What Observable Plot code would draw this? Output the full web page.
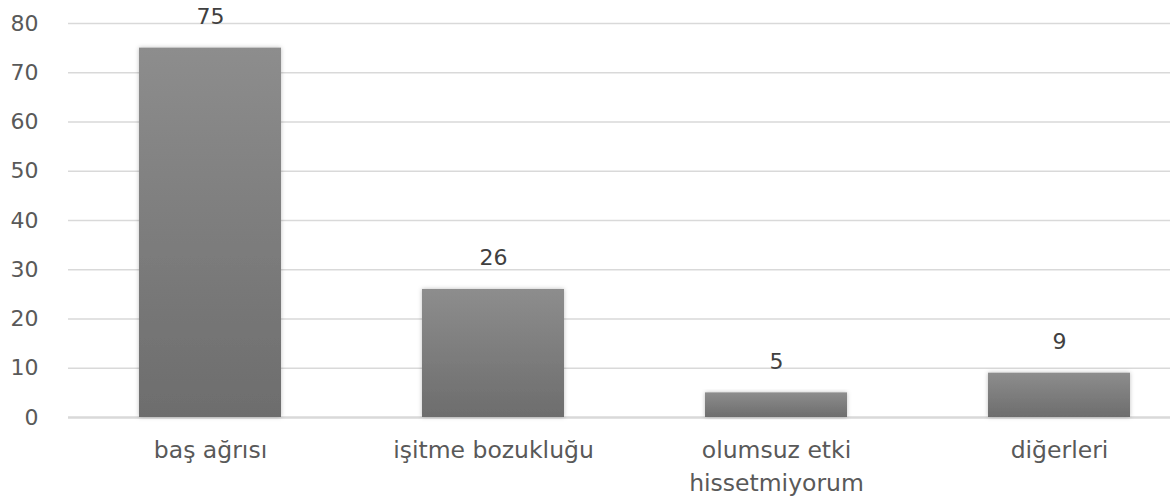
<!DOCTYPE html>
<html><head><meta charset="utf-8">
<script src="https://cdn.jsdelivr.net/npm/d3@7"></script>
<script src="https://cdn.jsdelivr.net/npm/@observablehq/plot@0.6"></script>
<style>
html,body{margin:0;padding:0;background:#fff;}
</style>
</head><body>
<div id="chart"></div>
<script>
const categories = ["baş ağrısı", "işitme bozukluğu", "olumsuz etki hissetmiyorum", "diğerleri"];
const labels = ["baş ağrısı", "işitme bozukluğu", "olumsuz etki\nhissetmiyorum", "diğerleri"];
const values = [75, 26, 5, 9];
const yTicks = [0, 10, 20, 30, 40, 50, 60, 70, 80];

const data = categories.map((c, i) => ({cat: c, value: values[i]}));
const labelMap = new Map(categories.map((c, i) => [c, labels[i]]));

const defs = () => {
  const ns = "http://www.w3.org/2000/svg";
  const d = document.createElementNS(ns, "defs");
  d.innerHTML = `<linearGradient id="barGrad" x1="0" y1="0" x2="0" y2="1">
      <stop offset="0" stop-color="#8d8d8d"/>
      <stop offset="1" stop-color="#6d6d6d"/>
    </linearGradient>
    <filter id="shadow" x="-10%" y="-10%" width="120%" height="120%">
      <feDropShadow dx="0" dy="0" stdDeviation="2" flood-color="#000" flood-opacity="0.25"/>
    </filter>`;
  return d;
};

const chart = Plot.plot({
  width: 1170,
  height: 500,
  marginLeft: 68,
  marginRight: 0,
  marginTop: 23,
  marginBottom: 83,
  style: {fontFamily: "'DejaVu Sans', sans-serif", fontSize: "22px", color: "#595959", background: "#fff"},
  x: {domain: categories, range: [68, 1200], paddingInner: 0.5, paddingOuter: 0.25, label: null},
  y: {domain: [0, 80], ticks: yTicks, label: null},
  marks: [
    defs,
    Plot.ruleY(yTicks.filter(d => d > 0), {stroke: "#d9d9d9", strokeWidth: 1.3}),
    Plot.ruleY([0], {stroke: "#d9d9d9", strokeWidth: 2.5}),
    Plot.barY(data, {x: "cat", y: "value", fill: "url(#barGrad)"}),
    Plot.text(data, {x: "cat", y: "value", text: d => String(d.value), dy: -31, fill: "#404040", fontSize: 22}),
    Plot.axisY({ticks: yTicks, tickSize: 0, tickPadding: 30, fill: "#595959", fontSize: 22}),
    Plot.axisX({tickSize: 0, tickPadding: 17, fill: "#595959", fontSize: 23.5, lineHeight: 1.4,
      tickFormat: d => labelMap.get(d)})
  ]
});
chart.querySelectorAll("rect").forEach(r => r.setAttribute("filter", "url(#shadow)"));
document.getElementById("chart").appendChild(chart);
</script>
</body></html>
